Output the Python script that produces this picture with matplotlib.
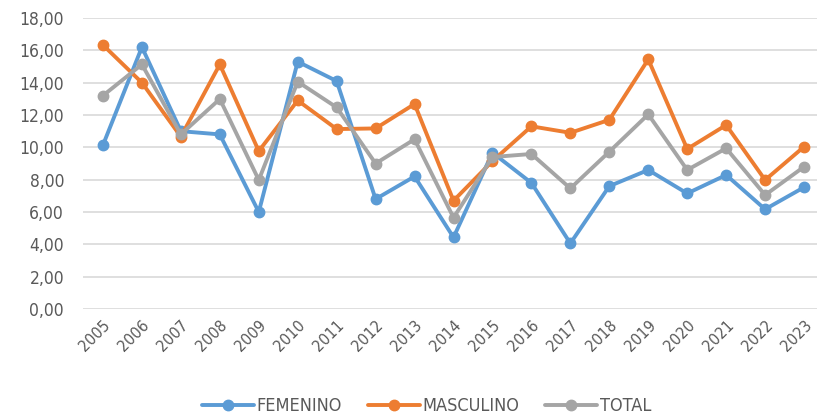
import matplotlib.pyplot as plt
from matplotlib.ticker import FuncFormatter

anios = [str(a) for a in range(2005, 2024)]

femenino = [10.14, 16.20, 11.00, 10.80, 6.00, 15.30, 14.10, 6.80, 8.20, 4.43,
            9.67, 7.80, 4.06, 7.60, 8.60, 7.15, 8.29, 6.17, 7.53]
masculino = [16.33, 14.00, 10.66, 15.13, 9.77, 12.90, 11.13, 11.17, 12.68, 6.70,
             9.15, 11.30, 10.90, 11.70, 15.44, 9.90, 11.38, 7.98, 10.04]
total = [13.20, 15.13, 10.80, 12.99, 7.98, 14.06, 12.47, 9.00, 10.50, 5.65,
         9.40, 9.59, 7.46, 9.73, 12.04, 8.60, 9.94, 7.05, 8.80]

series = [('FEMENINO', femenino, '#5B9BD5'),
          ('MASCULINO', masculino, '#ED7D31'),
          ('TOTAL', total, '#A5A5A5')]

plt.rcParams['font.family'] = ['DejaVu Sans']
plt.rcParams['font.stretch'] = 'condensed'

fig = plt.figure(figsize=(8.17, 4.15), dpi=100)
ax = fig.add_axes([0.1022, 0.2554, 0.9058, 0.7012])

x = list(range(len(anios)))
for nombre, valores, color in series:
    ax.plot(x, valores, color=color, lw=2.8, marker='o', ms=7.5,
            label=nombre, solid_capstyle='round', zorder=3)

ax.set_xlim(-0.5, len(anios) - 0.5)
ax.set_ylim(0, 18)
ax.set_yticks(range(0, 19, 2))
ax.yaxis.set_major_formatter(FuncFormatter(lambda v, p: f'{v:.2f}'.replace('.', ',')))
ax.set_xticks(x)
ax.set_xticklabels(anios, rotation=45, ha='right', rotation_mode='anchor')

ax.grid(axis='y', color='#D9D9D9', lw=1.2)
ax.set_axisbelow(True)
for s in ax.spines.values():
    s.set_visible(False)
ax.tick_params(axis='y', length=0, colors='#595959', labelsize=12.5, pad=14)
ax.tick_params(axis='x', length=0, colors='#595959', labelsize=11.5, pad=6)

fig.legend(loc='center', bbox_to_anchor=(0.522, 0.022), ncol=3, frameon=False,
           fontsize=13, labelcolor='#595959', handlelength=2.9,
           columnspacing=1.4, handletextpad=0.15)

fig.savefig('out.png', dpi=100)
